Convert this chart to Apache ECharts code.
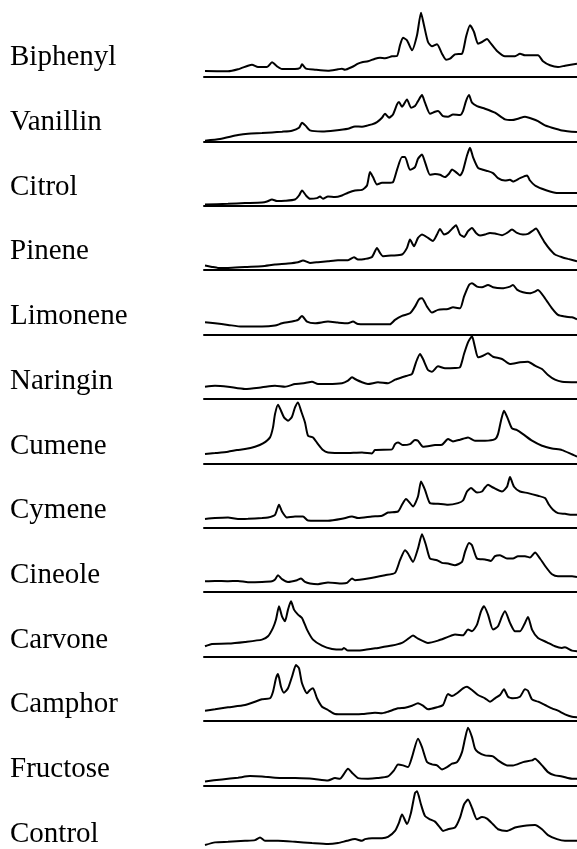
<!DOCTYPE html>
<html>
<head>
<meta charset="utf-8">
<script src="https://cdn.jsdelivr.net/npm/echarts@6/dist/echarts.min.js"></script>
<style>
  html, body { margin: 0; padding: 0; background: #fff; }
  #chart { width: 577px; height: 849px; }
</style>
</head>
<body>
<div id="chart"></div>
<script>
// Sample names, top to bottom
const sampleNames = ['Biphenyl', 'Vanillin', 'Citrol', 'Pinene', 'Limonene', 'Naringin',
  'Cumene', 'Cymene', 'Cineole', 'Carvone', 'Camphor', 'Fructose', 'Control'];

// Spectra: [channel, intensity] pairs, channel 0–373
const biphenyl = [[1,6],[24,5.7],[34,7.7],[44,11.3],[48,12.3],[54,10],[63,10],[68,14.7],[73,10.7],[78,8],[91,8],[96,9],[98,12.7],[102,8.3],[111,7.3],[124,6.3],[134,7.7],[138,8.3],[141,7.3],[148,10],[154,13.3],[158,14.7],[164,15.7],[171,18.3],[176,19.3],[181,18.7],[188,20.7],[193,21],[196,31.7],[199,39.3],[203,36.7],[208,26.7],[213,41.7],[217,64.3],[220,51.7],[224,35],[228,30.7],[233,32.7],[238,23.3],[242,17.3],[246,18.3],[251,22.7],[258,23.3],[262,40],[266,51.7],[270,45],[274,33.3],[278,35],[283,38],[287,33.3],[293,26],[301,20.7],[311,20.7],[316,23.3],[321,21.7],[334,21.7],[339,15.7],[346,11.7],[354,10],[361,11.3],[373,13.3]];

const vanillin = [[1,0.7],[16,2.3],[34,6.3],[44,7.7],[58,8.3],[68,9],[78,9.7],[88,10.7],[95,13.7],[98,18.7],[102,15.3],[106,11],[118,10],[131,11],[144,12.7],[151,15],[158,14.7],[164,16],[168,17],[173,19.3],[178,23.7],[181,27.7],[185,23.7],[189,27],[193,37],[195,39.3],[198,34.7],[203,42],[207,33.7],[211,35.3],[214,40.3],[218,46.3],[221,38.7],[226,27.7],[231,29.7],[234,30.3],[239,25.3],[244,24.7],[249,27],[256,26.3],[259,30.3],[262,40.3],[265,46.3],[268,38.7],[273,35.3],[281,32.7],[291,28.7],[301,22],[308,21.3],[314,22.7],[321,24.7],[328,22.7],[334,20.3],[341,16],[348,13.7],[358,11],[373,9.3]];

const citrol = [[1,1.3],[24,2],[41,2.7],[58,3.3],[63,4.3],[68,6.3],[73,4.7],[81,5],[91,6.3],[95,10.3],[98,15.3],[102,10.3],[106,7],[113,7.7],[116,9.3],[119,7],[124,9.3],[131,8.7],[138,10.3],[144,13],[151,15.3],[158,16],[163,20.3],[166,33.7],[169,28.7],[173,21.3],[178,23],[184,23],[189,23.7],[193,36],[198,48.7],[201,48.7],[206,36],[211,38.7],[214,47],[218,51.3],[221,43.7],[226,31],[231,31.7],[236,31],[241,28.7],[245,32],[248,36.3],[252,33.7],[256,30.3],[259,35.3],[263,50.3],[266,58],[269,48.7],[274,38],[279,36],[284,34.7],[289,32.7],[294,27.7],[301,25.3],[306,26],[309,24.3],[316,27.7],[323,30.3],[326,25.3],[331,20.3],[338,17],[346,14.3],[354,12.7],[373,12.7]];

const pinene = [[1,4.7],[8,3.3],[14,2.3],[24,2.3],[41,3.3],[58,4],[71,5.7],[84,6.7],[94,8],[99,9.7],[106,7.3],[114,8],[124,9],[134,10],[144,10],[150,13],[154,10.7],[161,11.3],[168,13.3],[173,22.3],[176,17.3],[179,14],[188,14.7],[198,15.7],[203,22.3],[206,30.7],[210,24],[214,32.3],[218,35.7],[224,32.3],[229,29.3],[233,35.7],[236,41.3],[240,35.7],[244,37.3],[248,41.3],[252,45],[256,35.7],[260,33.3],[264,39],[268,42.3],[272,37.3],[276,34.7],[281,35.7],[286,37.3],[291,36.7],[298,35],[303,37.3],[308,40.7],[313,37.3],[319,35.7],[324,36.3],[328,39],[332,41.7],[336,35.7],[341,27.3],[346,20.7],[351,15.7],[358,13],[364,11.3],[373,9]];

const limonene = [[1,12.3],[11,11.3],[24,9.7],[38,8],[58,8],[71,9],[78,11.3],[88,13],[94,14.7],[98,18.7],[103,13],[111,11.3],[124,13],[134,12],[144,11.3],[149,13],[154,10.7],[174,10.3],[186,10.3],[191,14.7],[198,18.7],[206,21.3],[211,28],[215,35.3],[218,36.3],[223,28],[228,22],[234,24.7],[244,25.7],[249,27.3],[256,26.3],[260,38],[265,49.7],[268,51.3],[273,48],[278,47.3],[284,49.7],[289,47.3],[298,46.3],[306,48],[309,49.7],[313,45],[319,42.3],[326,41.3],[331,43],[334,44.7],[341,36.3],[348,26.3],[354,19.7],[361,18],[368,17.3],[373,15.3]];

const naringin = [[1,12.3],[11,13.3],[24,12.3],[41,10],[58,11.7],[71,13.3],[81,12.3],[91,15],[101,16],[108,17.3],[114,15],[124,15],[138,15.7],[144,18.3],[148,21.7],[151,20],[158,16.7],[164,15],[174,16.7],[184,15.7],[191,19.3],[198,21.7],[203,23.3],[208,25],[212,36.7],[216,45],[219,40],[224,29],[228,27.3],[234,32.7],[241,30.7],[251,31],[256,31.7],[260,45],[264,56.7],[268,62.7],[271,51.7],[274,41.7],[279,43.3],[284,45.7],[289,42.3],[298,40],[306,35],[316,36.7],[324,37.3],[331,33.3],[338,30],[344,24],[351,19.3],[358,17.3],[373,16.7]];

const cumene = [[1,9.3],[11,10.3],[24,11.7],[33,13.3],[41,14.3],[51,16.7],[59,20],[66,26],[69,36],[71,49.3],[74,58.7],[77,52.7],[80,46],[84,42.7],[88,46.7],[91,56],[94,61],[97,52.7],[101,41],[104,27.7],[109,26],[114,19.3],[119,13.3],[124,11],[141,10.3],[158,11],[168,10],[171,13.3],[188,14],[191,19.3],[194,21],[199,18.3],[206,19.3],[211,23.3],[214,22.7],[219,16.7],[231,18.3],[238,18.7],[244,24.3],[249,22],[256,23.7],[264,26],[271,22.7],[281,22.7],[291,24.3],[294,29.3],[297,42.7],[300,52.7],[304,44.3],[308,35],[313,33.3],[319,29.3],[328,22.7],[338,17.7],[348,15],[358,13.3],[366,10],[373,6.7]];

const cymene = [[1,8.7],[11,9.7],[24,10.3],[34,8.7],[44,9],[58,9.7],[64,10.3],[71,13],[75,23],[78,16.3],[83,10.3],[91,11.3],[99,11.3],[104,7.3],[124,7],[138,9],[148,11.3],[154,9.7],[168,11.3],[178,12],[184,15.3],[194,16.3],[198,23],[202,28.7],[206,24.7],[209,21.3],[214,31.3],[217,46.3],[221,38],[226,24.7],[234,24],[244,23],[254,24.7],[259,27.3],[263,36.3],[267,39.7],[273,35.3],[278,36.3],[281,40.3],[284,43],[289,40.3],[298,36.3],[303,41],[306,50.7],[310,41],[316,36.3],[324,34.7],[334,32],[341,29.7],[345,23],[349,18],[354,14.7],[361,14],[368,13],[373,13]];

const cineole = [[1,11],[11,11.3],[24,11],[34,11.3],[44,10],[58,10.3],[68,11],[71,12.7],[74,17],[78,13],[84,10.3],[93,12],[97,13.7],[101,10.3],[106,8.7],[114,8],[124,9.7],[138,8.7],[143,9.3],[148,13.7],[151,12],[164,13.7],[181,17],[191,19.3],[196,32],[201,42],[204,38.7],[209,30.3],[214,43.7],[218,58],[222,47],[226,33.7],[233,32],[238,29.3],[244,28.7],[251,27],[258,30.3],[261,40.3],[265,49.3],[268,47],[273,33.7],[281,32.7],[287,31.3],[291,36],[296,37],[303,33.7],[309,33.7],[314,36],[321,36],[326,34.7],[331,39.7],[336,33.7],[343,23.7],[348,18],[354,16],[361,16],[368,16],[373,15.3]];

const carvone = [[1,10.3],[8,12.7],[24,13],[41,14.7],[58,17],[64,20.3],[69,28.7],[72,37],[75,50.3],[78,40.3],[81,35.3],[84,47],[87,55.3],[90,47],[94,42],[98,38.7],[103,27],[109,17],[118,11],[128,7.7],[138,7],[140,8.7],[144,6],[158,6.3],[174,8.7],[188,11],[198,13.7],[204,17.7],[209,21],[214,18],[224,13.7],[234,16],[244,19.7],[251,22],[259,21.3],[264,27],[268,25.3],[273,32],[277,45.3],[280,50.3],[284,42],[289,27],[294,30.3],[298,40.3],[301,45.3],[306,33.7],[311,25.3],[316,25.3],[321,33.7],[324,39.7],[328,27],[334,18.7],[343,14.3],[351,10.3],[358,8.7],[361,9.3],[368,6],[373,5.3]];

const camphor = [[1,10.3],[11,11.7],[24,13.7],[41,16],[51,19.3],[58,21.7],[66,22.7],[69,29.3],[72,42.7],[74,47],[77,34.3],[80,28.3],[84,32.7],[88,44.3],[92,56],[95,52.7],[98,37.7],[103,27.7],[106,31],[109,32.7],[113,22.7],[118,14.3],[124,11],[131,7],[141,6.7],[158,7],[171,8.3],[178,7.7],[184,9.3],[194,12.7],[201,13.3],[208,15.3],[214,17.7],[219,15.3],[224,11.7],[233,13.7],[239,16],[244,27],[248,25],[253,27.7],[259,32.7],[263,34.3],[268,31],[274,26],[281,22.7],[286,19.3],[291,22.7],[296,26],[300,31.7],[304,24.3],[309,22.7],[316,24.3],[321,31.7],[324,30.3],[328,21.7],[334,19.3],[341,16],[348,12.7],[354,10.3],[361,6.7],[368,4.3],[373,3.7]];

const fructose = [[1,4],[18,6],[34,7.7],[46,9.3],[58,9],[71,7.7],[91,7.3],[108,6.7],[124,5],[131,7.3],[136,6.7],[139,10],[144,16.7],[148,12.7],[154,7.3],[164,6.7],[173,7.3],[184,9],[190,15],[194,21],[199,20],[204,18.3],[208,28.3],[214,46.7],[218,38.3],[223,23.3],[228,21],[233,20],[238,16],[243,18.3],[248,21.7],[253,23.3],[258,33.3],[261,46.7],[264,57.7],[268,48.3],[271,36.7],[274,33.3],[281,30],[289,29],[294,25],[303,20],[309,20],[319,23.3],[328,25],[331,26.7],[338,20],[344,13.3],[351,10],[358,9],[368,6.7],[373,6.7]];

const control = [[1,4],[11,6.7],[24,7.3],[41,8.3],[51,9],[56,11.7],[61,8.3],[74,8.3],[91,7.3],[108,6],[124,5],[134,6],[143,8.3],[151,10],[158,8.3],[161,10],[168,11],[178,11],[184,12.3],[191,18.3],[195,26.7],[198,35],[203,25.3],[207,36.7],[211,56.7],[213,58.3],[217,45],[221,33.3],[226,30],[231,27.7],[236,21.7],[239,18.3],[244,20],[251,21.7],[256,31.7],[260,45],[264,50],[268,41.7],[273,30],[278,32.3],[283,30.7],[289,25],[294,20],[303,18.3],[311,21.7],[319,23.3],[331,24.3],[338,20],[344,14],[353,10],[361,8.3],[373,8.3]];

const traces = [biphenyl, vanillin, citrol, pinene, limonene, naringin,
  cumene, cymene, cineole, carvone, camphor, fructose, control];

// Panel geometry
const PLOT_LEFT = 204;
const FIRST_BASE = 77;     // y of the first baseline rule
const ROW_STEP = 64.4;     // distance between rules
const ROW_H = 70;          // plot height (one intensity unit per pixel)
const LABEL_X = 10;
const LABEL_BASE0 = 65.7;
const LABEL_STEP = 64.7;

const grids = [], xAxes = [], yAxes = [], series = [], labels = [];
traces.forEach((data, i) => {
  const base = FIRST_BASE + i * ROW_STEP;
  grids.push({ left: PLOT_LEFT, right: 0, top: base - ROW_H, height: ROW_H });
  xAxes.push({
    type: 'value', gridIndex: i, min: 0, max: 373,
    axisLine: { show: i < traces.length - 1, lineStyle: { color: '#000', width: 2 } },
    axisTick: { show: false }, axisLabel: { show: false }, splitLine: { show: false }
  });
  yAxes.push({ type: 'value', gridIndex: i, min: 0, max: ROW_H, show: false });
  series.push({
    type: 'line', name: sampleNames[i], xAxisIndex: i, yAxisIndex: i,
    data: data, showSymbol: false, smooth: 0.2, clip: false,
    lineStyle: { color: '#000', width: 2 }
  });
  labels.push({
    type: 'text', x: LABEL_X, y: LABEL_BASE0 + i * LABEL_STEP - 8,
    style: {
      text: sampleNames[i], fill: '#000',
      font: '29px "Liberation Serif", "Times New Roman", serif',
      verticalAlign: 'middle', align: 'left'
    }
  });
});

const chart = echarts.init(document.getElementById('chart'), null, { renderer: 'canvas' });
chart.setOption({
  animation: false,
  backgroundColor: '#fff',
  grid: grids, xAxis: xAxes, yAxis: yAxes, series: series,
  graphic: labels
});
</script>
</body>
</html>
